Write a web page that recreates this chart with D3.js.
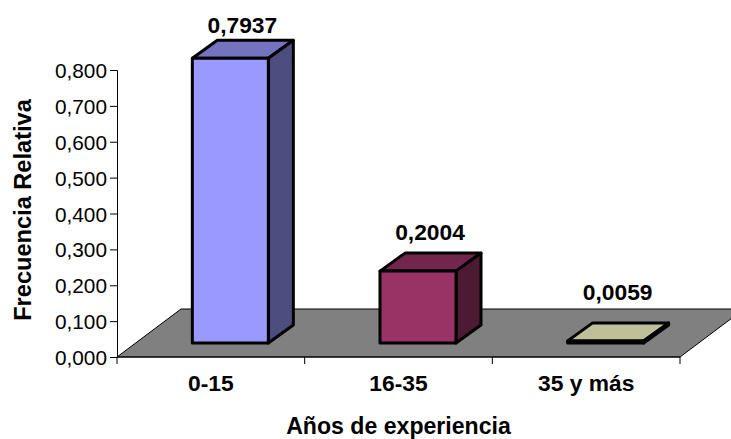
<!DOCTYPE html>
<html><head><meta charset="utf-8">
<script src="https://cdnjs.cloudflare.com/ajax/libs/d3/7.8.5/d3.min.js"></script>
<style>html,body{margin:0;padding:0;background:#fff;overflow:hidden}svg{display:block}text{font-family:"Liberation Sans",Arial,sans-serif;fill:#000}</style>
</head><body><div id="c"></div>
<script>
const categories=["0-15","16-35","35 y más"];
const values=[0.7937,0.2004,0.0059];
const valueLabels=["0,7937","0,2004","0,0059"];
const colors=["#9999ff","#993366","#ffffcc"];
const tickValues=[0,0.1,0.2,0.3,0.4,0.5,0.6,0.7,0.8];
const W=731,H=439;
const left=117,right=680,y0=357,yTop=70,dx=64,dy=48,barDx=25,barDy=18,floorFront=14,barW=76,barShift=19.5;
const labelGap=[7,13,23];
const svg=d3.select("#c").append("svg").attr("width",W).attr("height",H);
const x=d3.scaleBand().domain(categories).range([left,right]);
const y=d3.scaleLinear().domain([0,0.8]).range([y0,yTop]);
svg.append("path").attr("d",d3.line()([[left,y0],[left+dx,y0-dy],[right+dx,y0-dy],[right,y0]])+"Z")
 .attr("fill","#808080").attr("stroke","#000").attr("stroke-width",1);
const ya=svg.append("g").attr("transform",`translate(${left},0)`)
 .call(d3.axisLeft(y).tickValues(tickValues).tickSize(7).tickPadding(3).tickFormat(d=>d3.format(".3f")(d).replace(".",",")));
ya.selectAll("path,line").attr("stroke","#000");
ya.selectAll("text").attr("font-size",20.8).attr("dy","0.36em");
const xa=svg.append("g").attr("transform",`translate(0,${y0})`)
 .call(d3.axisBottom(x).tickSize(0).tickPadding(18));
xa.select("path").attr("d",`M${left},0H${right}`).attr("stroke","#000");
xa.selectAll("text").attr("font-size",22.8).attr("font-weight","bold");
svg.append("g").selectAll("line").data([...categories.map(c=>x(c)),right]).join("line")
 .attr("x1",d=>d).attr("x2",d=>d).attr("y1",y0).attr("y2",y0+7).attr("stroke","#000");
const g=svg.append("g");
const shade=(c,k)=>{const r=d3.rgb(c);return d3.rgb(r.r*k,r.g*k,r.b*k).formatHex();};
categories.forEach((c,i)=>{
 const xL=x(c)+(x.bandwidth()-barW)/2+barShift;
 const b=y0-floorFront, h=y0-y(values[i]), t=b-h, r=xL+barW;
 const line=d3.line();
 const gg=g.append("g").attr("stroke","#000").attr("stroke-width",3).attr("stroke-linejoin","round");
 gg.append("path").attr("d",line([[xL,t],[xL+barDx,t-barDy],[r+barDx,t-barDy],[r,t]])+"Z").attr("fill",shade(colors[i],0.75));
 gg.append("path").attr("d",line([[r,t],[r+barDx,t-barDy],[r+barDx,b-barDy],[r,b]])+"Z").attr("fill",shade(colors[i],0.5));
 gg.append("rect").attr("x",xL).attr("y",t).attr("width",barW).attr("height",h).attr("fill",colors[i]);
 svg.append("text").attr("x",xL+barW/2+12).attr("y",t-barDy-labelGap[i]).attr("text-anchor","middle").attr("font-size",22.8).attr("font-weight","bold").text(valueLabels[i]);
});
svg.append("text").attr("x",398.5).attr("y",434).attr("text-anchor","middle").attr("font-size",23.1).attr("font-weight","bold").text("Años de experiencia");
svg.append("text").attr("transform","translate(31,210) rotate(-90)").attr("text-anchor","middle").attr("font-size",23.6).attr("font-weight","bold").text("Frecuencia Relativa");
</script></body></html>
